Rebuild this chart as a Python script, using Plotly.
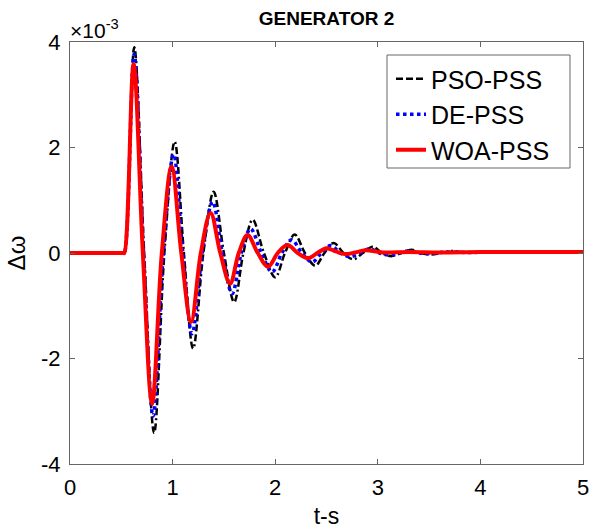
import plotly.graph_objects as go

# Values in units of 1e-3
pso_t = [0, 0.52, 0.53, 0.626, 0.723, 0.82, 0.92, 1.02, 1.11, 1.20, 1.30, 1.40, 1.50, 1.60, 1.69,
         1.78, 1.89, 2.00, 2.095, 2.19, 2.29, 2.39, 2.48, 2.57, 2.665, 2.76, 2.855, 2.95, 3.04,
         3.13, 3.23, 3.33, 3.42, 3.52, 3.62, 3.72, 3.85, 4.1, 4.5, 5.0]
pso_v = [0, 0, 0, 3.90, 0, -3.41, 0, 2.11, 0, -1.81, 0, 1.16, 0, -0.93, 0,
         0.63, 0, -0.46, 0, 0.35, 0, -0.24, 0, 0.19, 0, -0.12, 0, 0.12, 0,
         -0.06, 0, 0.06, 0, -0.03, 0, 0.04, 0.01, 0.02, 0.02, 0.02]

de_t = [0, 0.52, 0.53, 0.625, 0.717, 0.81, 0.91, 1.01, 1.10, 1.19, 1.29, 1.39, 1.485, 1.58, 1.67,
        1.76, 1.865, 1.97, 2.065, 2.16, 2.26, 2.36, 2.45, 2.54, 2.635, 2.73, 2.825, 2.92, 3.015,
        3.11, 3.205, 3.30, 3.40, 3.50, 3.60, 3.70, 3.85, 4.2, 5.0]
de_v = [0, 0, 0, 3.77, 0, -3.09, 0, 1.87, 0, -1.53, 0, 0.97, 0, -0.77, 0,
        0.46, 0, -0.36, 0, 0.25, 0, -0.17, 0, 0.14, 0, -0.07, 0, 0.08, 0,
        -0.04, 0, 0.04, 0, -0.01, 0.01, 0.02, 0.01, 0.02, 0.02]

woa_t = [0, 0.52, 0.53, 0.62, 0.71, 0.80, 0.895, 0.99, 1.085, 1.18, 1.275, 1.37, 1.465, 1.56, 1.645,
         1.73, 1.83, 1.93, 2.025, 2.12, 2.22, 2.32, 2.41, 2.50, 2.59, 2.68, 2.78, 2.88, 3.05,
         3.3, 3.6, 4.0, 4.5, 5.0]
woa_v = [0, 0, 0, 3.58, 0, -2.86, 0, 1.64, 0, -1.31, 0, 0.76, 0, -0.58, 0,
         0.34, 0, -0.26, 0, 0.15, 0, -0.10, 0, 0.09, 0.03, -0.02, 0.01, 0.05, 0.01,
         0.02, 0.01, 0.02, 0.02, 0.02]

x_ticks = [0, 1, 2, 3, 4, 5]
y_ticks = [-4, -2, 0, 2, 4]
series_names = ["PSO-PSS", "DE-PSS", "WOA-PSS"]

FONT = "Liberation Sans, Arial, sans-serif"
L, R, T, B = 70, 583, 42, 464
W, H = 594, 529
PW, PH = R - L, B - T

fig = go.Figure()
fig.add_trace(go.Scatter(x=pso_t, y=pso_v, mode="lines", name=series_names[0],
                         line=dict(color="black", width=2.5,
                                   dash="7px,3px,7px,3px,7px,3px,2px,3px",
                                   shape="spline", smoothing=1)))
fig.add_trace(go.Scatter(x=de_t, y=de_v, mode="lines", name=series_names[1],
                         line=dict(color="#0000ff", width=3.5, dash="dot",
                                   shape="spline", smoothing=1)))
fig.add_trace(go.Scatter(x=woa_t, y=woa_v, mode="lines", name=series_names[2],
                         line=dict(color="#ff0000", width=4, shape="spline", smoothing=1)))

axis_common = dict(showline=True, linecolor="#666666", linewidth=1, mirror="ticks",
                   ticks="inside", ticklen=5, tickcolor="#666666", showgrid=False,
                   zeroline=False, automargin=False,
                   tickfont=dict(family=FONT, size=22, color="black"))

# legend frame (drawn as a shape so it can be wider than plotly's own box)
fig.add_shape(type="rect", xref="paper", yref="paper",
              x0=(387 - L) / PW, x1=(570 - L) / PW, y0=(B - 168) / PH, y1=(B - 55) / PH,
              fillcolor="white", line=dict(color="#666666", width=1), layer="above")

fig.update_layout(
    width=W, height=H,
    margin=dict(l=L, r=W - R, t=T, b=H - B),
    paper_bgcolor="white", plot_bgcolor="white",
    title=dict(text="<b>GENERATOR 2</b>", x=(L + R) / 2 / W, xanchor="center",
               y=1 - 18 / H, yanchor="middle",
               font=dict(family=FONT, size=19, color="black")),
    xaxis=dict(range=[0, 5], tickvals=x_ticks, ticktext=[str(v) for v in x_ticks],
               ticklabelstandoff=4,
               title=dict(text="t-s", font=dict(family=FONT, size=23, color="black"), standoff=8),
               **axis_common),
    yaxis=dict(range=[-4, 4], tickvals=y_ticks, ticktext=[str(v) for v in y_ticks],
               ticklabelstandoff=4,
               title=dict(text="Δω", font=dict(family=FONT, size=24, color="black"), standoff=8),
               **axis_common),
    legend=dict(x=(391 - L) / PW, y=(B - 56) / PH, xanchor="left", yanchor="top",
                bgcolor="rgba(0,0,0,0)", borderwidth=0,
                font=dict(family=FONT, size=25, color="black")),
    showlegend=True,
)

fig.add_annotation(xref="paper", yref="paper", x=0.0, y=1.0, xanchor="left", yanchor="bottom",
                   text="×10<sup>-3</sup>", showarrow=False, yshift=-2, xshift=-2,
                   font=dict(family=FONT, size=21, color="black"))

fig.write_html("out.html", config={"displayModeBar": False},
               post_script="document.body.style.margin='0';")
